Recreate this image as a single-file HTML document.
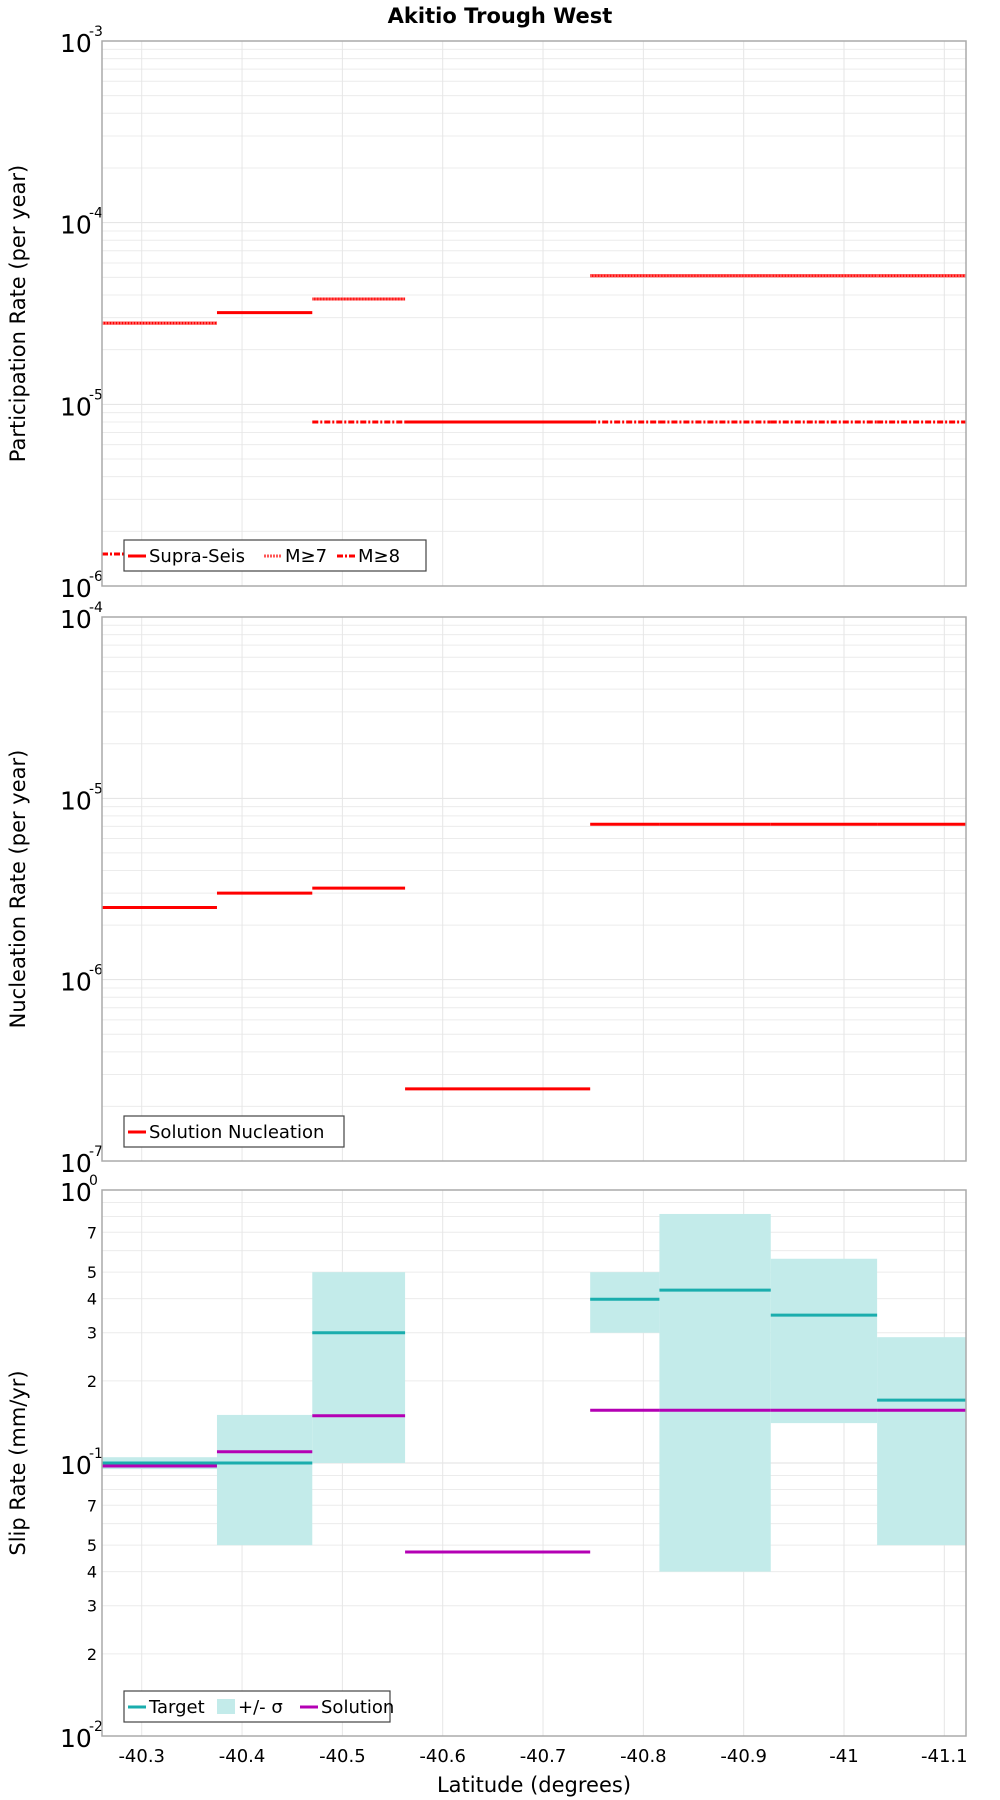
<!DOCTYPE html>
<html><head><meta charset="utf-8"><style>
body{margin:0;background:#fff}
svg{display:block;font-family:"DejaVu Sans","Liberation Sans",sans-serif}
</style></head><body>
<svg id="chart" width="1000" height="1800" viewBox="0 0 1000 1800" xmlns="http://www.w3.org/2000/svg">
<text x="500" y="23" text-anchor="middle" font-weight="bold" font-size="21">Akitio Trough West</text>
<g id="root"></g>
</svg>
<script>
// Segment boundaries (latitude magnitude, degrees south)
const segEdges = [40.2604, 40.375, 40.470, 40.5625, 40.747, 40.816, 40.927, 41.033, 41.1216];
const xTicks = [40.3, 40.4, 40.5, 40.6, 40.7, 40.8, 40.9, 41.0, 41.1];
const xTickLabels = ["-40.3","-40.4","-40.5","-40.6","-40.7","-40.8","-40.9","-41","-41.1"];
// Participation
const supraSeis = [2.8e-5, 3.2e-5, 3.8e-5, 8e-6, 5.1e-5, 5.1e-5, 5.1e-5, 5.1e-5];
const m7 = [2.8e-5, null, 3.8e-5, null, 5.1e-5, 5.1e-5, 5.1e-5, 5.1e-5];
const m8 = [1.5e-6, null, 8e-6, 8e-6, 8e-6, 8e-6, 8e-6, 8e-6];
// Nucleation
const nucleation = [2.5e-6, 3.0e-6, 3.2e-6, 2.5e-7, 7.2e-6, 7.2e-6, 7.2e-6, 7.2e-6];
// Slip rates
const target = [0.1, 0.1, 0.3, null, 0.398, 0.43, 0.348, 0.17];
const sigmaLo = [0.095, 0.05, 0.1, null, 0.3, 0.04, 0.14, 0.05];
const sigmaHi = [0.105, 0.15, 0.5, null, 0.5, 0.817, 0.56, 0.289];
const solution = [0.0975, 0.11, 0.149, 0.0472, 0.156, 0.156, 0.156, 0.156];

const NS="http://www.w3.org/2000/svg";
const root=document.getElementById('root');
const L=102,R=966;
const x0=40.2604,x1=41.1216;
function xs(v){return L+(v-x0)/(x1-x0)*(R-L);}
function mk(tag,attrs,parent){const e=document.createElementNS(NS,tag);for(const k in attrs)e.setAttribute(k,attrs[k]);(parent||root).appendChild(e);return e;}

const panels=[
 {top:41,bot:586,lo:-6,hi:-3,title:"Participation Rate (per year)",minorLabels:false},
 {top:617,bot:1161,lo:-7,hi:-4,title:"Nucleation Rate (per year)",minorLabels:false},
 {top:1190,bot:1736,lo:-2,hi:0,title:"Slip Rate (mm/yr)",minorLabels:true}
];
function ys(p,v){return p.bot-(Math.log10(v)-p.lo)/(p.hi-p.lo)*(p.bot-p.top);}

panels.forEach((p,pi)=>{
 const g=mk('g',{});
 
 
 for(let d=p.lo;d<p.hi;d++){for(let m=1;m<10;m++){const v=m*Math.pow(10,d);const y=ys(p,v);
  const ln=mk('line',{x1:L,x2:R,y1:y,y2:y,stroke:m==1?'#e2e2e2':'#ececec','stroke-width':1},g);
  
  if(p.minorLabels&&m>1&&[2,3,4,5,7].includes(m)){const t=mk('text',{x:97,y:y+6,'text-anchor':'end','font-size':16},g);t.textContent=m;
   }
 }}
 xTicks.forEach(v=>{const x=xs(v);const ln=mk('line',{x1:x,x2:x,y1:p.top,y2:p.bot,stroke:'#e6e6e6','stroke-width':1},g);
  });
 for(let d=p.lo;d<=p.hi;d++){const y=ys(p,Math.pow(10,d));
  const t=mk('text',{x:60,y:y+11,'font-size':25},g);t.textContent='10';
  
  const s=mk('text',{x:89,y:y-5,'font-size':14},g);s.textContent=String(d);
  }
 const yt=mk('text',{transform:`translate(25,${(p.top+p.bot)/2}) rotate(-90)`,'text-anchor':'middle','font-size':21},g);yt.textContent=p.title;
 
 p.g=g;
});

function seg(p,arr,style,name){
 arr.forEach((v,i)=>{if(v==null)return;const y=ys(p,v);
  const ln=mk('line',Object.assign({x1:xs(segEdges[i]),x2:xs(segEdges[i+1]),y1:y,y2:y},style),p.g);
  });
}
const P1=panels[0],P2=panels[1],P3=panels[2];
seg(P1,m8,{stroke:'#f00','stroke-width':3,'stroke-dasharray':'6,2,2,2'},'m8');
seg(P1,supraSeis,{stroke:'#f00','stroke-width':3},'supra-seis');
seg(P1,m7,{stroke:'#f55','stroke-width':3,'stroke-dasharray':'2,1'},'m7');
seg(P2,nucleation,{stroke:'#f00','stroke-width':3},'nucleation');
sigmaLo.forEach((lo,i)=>{if(lo==null)return;const yH=ys(P3,sigmaHi[i]),yL=ys(P3,lo);
 const r=mk('rect',{x:xs(segEdges[i]),y:yH,width:xs(segEdges[i+1])-xs(segEdges[i]),height:yL-yH,fill:'#c3ebea'},P3.g);
 });
seg(P3,target,{stroke:'#1aadad','stroke-width':3},'target');
seg(P3,solution,{stroke:'#b400b4','stroke-width':3},'solution');

panels.forEach(p=>{const b=mk('rect',{x:L,y:p.top,width:R-L,height:p.bot-p.top,fill:'none',stroke:'#aaa','stroke-width':1.5},p.g);
 });

xTicks.forEach((v,i)=>{const t=mk('text',{x:xs(v),y:1762,'text-anchor':'middle','font-size':18});t.textContent=xTickLabels[i];
 });
const xt=mk('text',{x:534,y:1792,'text-anchor':'middle','font-size':21});xt.textContent='Latitude (degrees)';


function legend(p,x,y,w,items,name){
 const g=mk('g',{},p.g);
 const b=mk('rect',{x:x,y:y,width:w,height:31,fill:'#fff',stroke:'#444','stroke-width':1.2},g);
 
 let cx=x+4;
 items.forEach(it=>{
  if(it.rect){const r=mk('rect',{x:cx,y:y+8,width:18,height:15,fill:it.color},g);}
  else{const l=mk('line',Object.assign({x1:cx,x2:cx+18,y1:y+16,y2:y+16,stroke:it.color,'stroke-width':3},it.dash?{'stroke-dasharray':it.dash}:{}),g);}
  const t=mk('text',{x:cx+21,y:y+22,'font-size':18},g);t.textContent=it.label;
  
  cx+=21+it.w;});
}
legend(P1,124,540,302,[{label:'Supra-Seis',color:'#f00',w:115},{label:'M≥7',color:'#f55',dash:'2,1',w:52},{label:'M≥8',color:'#f00',dash:'6,2,2,2',w:50}],'legend-participation');
legend(P2,124,1116,220,[{label:'Solution Nucleation',color:'#f00',w:190}],'legend-nucleation');
legend(P3,124,1691,266,[{label:'Target',color:'#1aadad',w:68},{label:'+/- σ',color:'#c3ebea',rect:true,w:62},{label:'Solution',color:'#b400b4',w:80}],'legend-slip');
</script>
</body></html>
